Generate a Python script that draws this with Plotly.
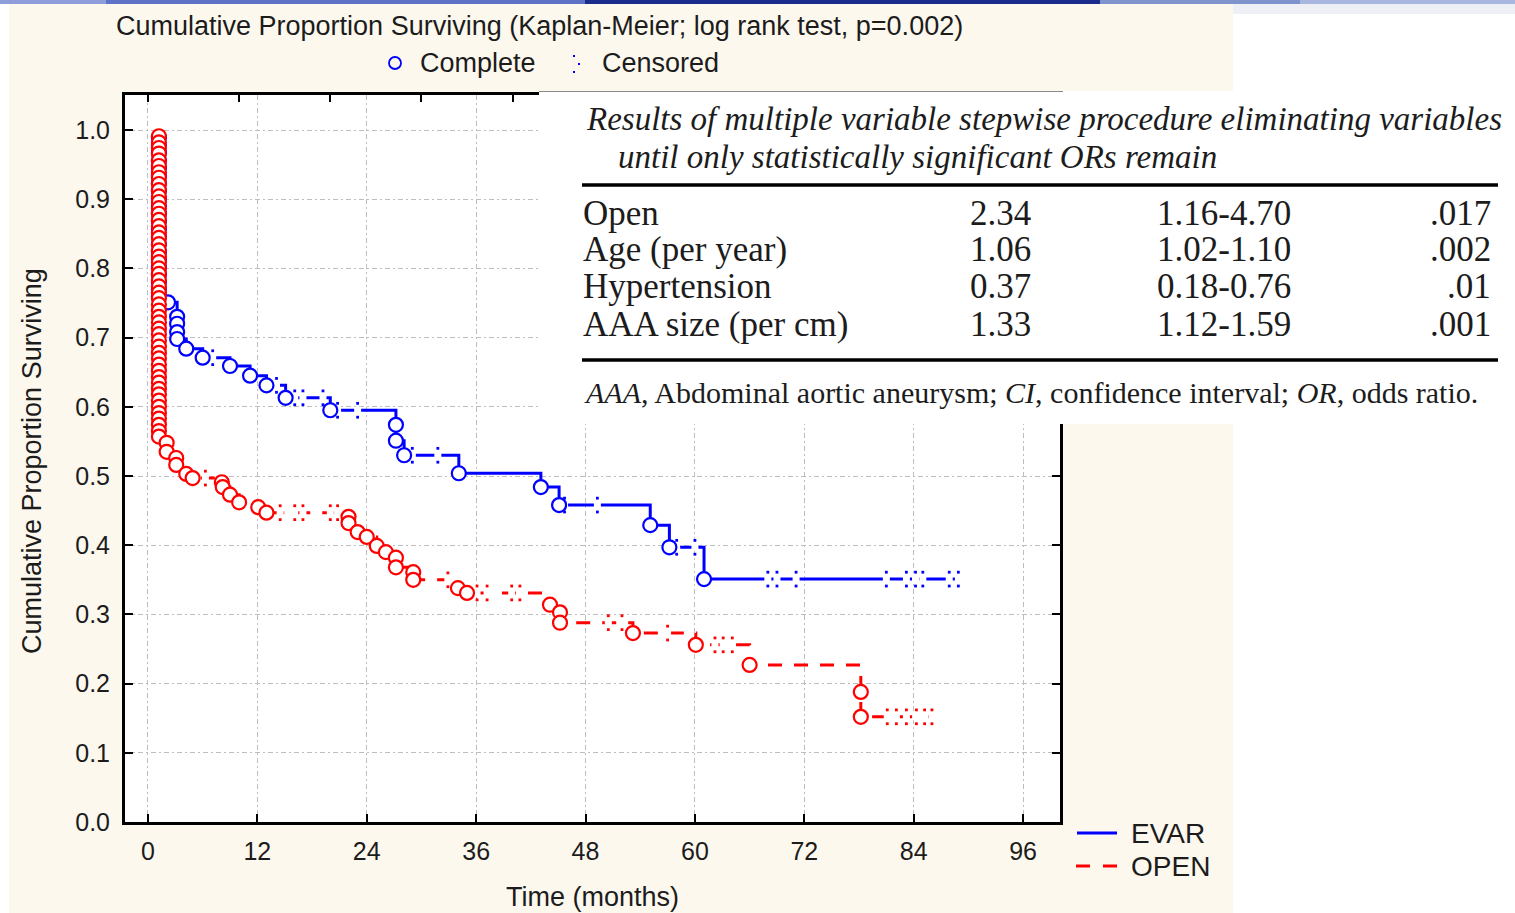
import plotly.graph_objects as go

# ---------------- survival data (months, cumulative proportion surviving) ----------------
# EVAR group
EVAR_T0 = 1.2
EVAR_EARLY_S = [0.989, 0.978, 0.967, 0.956, 0.945, 0.934, 0.923, 0.912, 0.901, 0.890, 0.879,
                0.868, 0.857, 0.846, 0.835, 0.824, 0.813, 0.802, 0.791, 0.780, 0.770, 0.759]
EVAR_DEATH_T = [2.2, 3.2, 3.2, 3.2, 3.2, 4.2, 6.0, 9.0, 11.2, 13.0, 15.1, 20.0, 27.2, 27.2,
                28.1, 34.1, 43.1, 45.1, 55.1, 57.2, 61.0]
EVAR_DEATH_S = [0.751, 0.730, 0.720, 0.708, 0.698, 0.684, 0.671, 0.659, 0.645, 0.631, 0.613,
                0.595, 0.574, 0.551, 0.530, 0.504, 0.484, 0.458, 0.429, 0.397, 0.351]
EVAR_CENSOR_T = [7.1, 14.1, 16.1, 17.0, 19.2, 20.8, 23.0, 29.0, 31.8, 45.7, 49.3, 58.0, 60.0,
                 68.0, 69.0, 71.1, 81.0, 83.2, 84.2, 85.0, 87.9, 88.9]

# OPEN group
OPEN_T0 = 1.2
OPEN_EARLY_S = [0.991, 0.982, 0.974, 0.966, 0.956, 0.948, 0.939, 0.931, 0.922, 0.913,
                0.904, 0.896, 0.887, 0.879, 0.870, 0.861, 0.852, 0.844, 0.835, 0.826,
                0.817, 0.809, 0.800, 0.792, 0.783, 0.774, 0.765, 0.757, 0.748, 0.739,
                0.730, 0.722, 0.713, 0.705, 0.696, 0.687, 0.678, 0.670, 0.661, 0.652,
                0.643, 0.635, 0.626, 0.618, 0.609, 0.600, 0.591, 0.583, 0.574, 0.565, 0.557]
OPEN_DEATH_T = [2.05, 2.05, 3.1, 3.1, 4.2, 4.9, 8.1, 8.2, 9.0, 10.0, 12.1, 13.0, 22.0, 22.0,
                23.0, 24.0, 25.1, 26.1, 27.2, 27.2, 29.1, 29.1, 34.0, 35.0, 44.1, 45.2, 45.2,
                53.2, 60.1, 66.0, 78.2, 78.2]
OPEN_DEATH_S = [0.548, 0.535, 0.526, 0.516, 0.503, 0.497, 0.491, 0.484, 0.473, 0.462, 0.455,
                0.447, 0.441, 0.432, 0.419, 0.412, 0.399, 0.390, 0.382, 0.368, 0.361, 0.350,
                0.338, 0.331, 0.314, 0.303, 0.288, 0.273, 0.256, 0.227, 0.188, 0.152]
OPEN_CENSOR_T = [6.3, 14.5, 16.1, 17.0, 20.0, 20.8, 32.9, 36.1, 37.2, 39.9, 40.8, 50.5, 52.0,
                 57.0, 62.2, 63.1, 64.1, 81.1, 82.1, 83.2, 84.3, 85.2, 86.0]

X_TICKS = [0, 12, 24, 36, 48, 60, 72, 84, 96]
X_TOP_TICKS = [0, 10, 20, 30, 40, 50, 60, 70, 80, 90, 100]
Y_TICKS = [0.0, 0.1, 0.2, 0.3, 0.4, 0.5, 0.6, 0.7, 0.8, 0.9, 1.0]

# ---------------- odds-ratio table ----------------
TABLE_TITLE_1 = "Results of multiple variable stepwise procedure eliminating variables"
TABLE_TITLE_2 = "until only statistically significant ORs remain"
TABLE_VARS = ["Open", "Age (per year)", "Hypertension", "AAA size (per cm)"]
TABLE_OR = ["2.34", "1.06", "0.37", "1.33"]
TABLE_CI = ["1.16-4.70", "1.02-1.10", "0.18-0.76", "1.12-1.59"]
TABLE_P = [".017", ".002", ".01", ".001"]
TABLE_NOTE = ("<i>AAA</i>, Abdominal aortic aneurysm; <i>CI</i>, confidence interval; "
              "<i>OR</i>, odds ratio.")

# ---------------- page geometry (pixels) ----------------
W, H = 1515, 913
PL, PR, PT, PB = 125, 1060, 95, 822  # plot-area edges


def px(x):
    return (x - PL) / (PR - PL)


def py(y):
    return (PB - y) / (PB - PT)


BLUE = "#0000FF"
RED = "#FF0000"
SANS = "Liberation Sans, Arial, sans-serif"
SERIF = "Liberation Serif, Times New Roman, serif"
INK = "#1c1c1c"
CENSOR_OFFSET = 0.0100


def km_curve(t0, early_s, death_t, death_s, censor_t):
    """Assemble the step path, death points and censor points of one group."""
    events = [(t0, s, 0) for s in early_s]
    events += [(t, s, 0) for t, s in zip(death_t, death_s)]
    deaths_sorted = sorted(events, key=lambda e: e[0])
    for ct in censor_t:
        level = 1.0
        for t, s, _ in deaths_sorted:
            if t <= ct:
                level = s
        events.append((ct, level, 1))
    events.sort(key=lambda e: (e[0], e[2]))
    path_x, path_y = [t0], [1.0]
    for t, s, _ in events:
        path_x.append(t)
        path_y.append(s)
    dx = [e[0] for e in events if e[2] == 0]
    dy = [e[1] for e in events if e[2] == 0]
    cx = [e[0] for e in events if e[2] == 1]
    cy = [e[1] for e in events if e[2] == 1]
    return path_x, path_y, dx, dy, cx, cy


fig = go.Figure()


def add_group(curve, color, dash):
    path_x, path_y, dx, dy, cx, cy = curve
    fig.add_trace(go.Scatter(x=path_x, y=path_y, mode="lines", line_shape="hv",
                             line=dict(color=color, width=3, dash=dash),
                             showlegend=False, hoverinfo="skip"))
    # break the line where observations are censored
    fig.add_trace(go.Scatter(x=cx, y=cy, mode="markers",
                             marker=dict(symbol="square", size=7, color="white"),
                             showlegend=False, hoverinfo="skip"))
    # censor marks: small dots above and below the curve
    fig.add_trace(go.Scatter(x=cx + cx, y=[v + CENSOR_OFFSET for v in cy] + [v - CENSOR_OFFSET for v in cy],
                             mode="markers",
                             marker=dict(symbol="square", size=2.8, color=color),
                             showlegend=False, hoverinfo="skip"))
    # complete (death) observations
    fig.add_trace(go.Scatter(x=dx, y=dy, mode="markers",
                             marker=dict(symbol="circle", size=14, color="white",
                                         line=dict(color=color, width=2.2)),
                             showlegend=False, hoverinfo="skip"))


add_group(km_curve(EVAR_T0, EVAR_EARLY_S, EVAR_DEATH_T, EVAR_DEATH_S, EVAR_CENSOR_T), BLUE, "solid")
add_group(km_curve(OPEN_T0, OPEN_EARLY_S, OPEN_DEATH_T, OPEN_DEATH_S, OPEN_CENSOR_T), RED, "14px,12px")

# carrier trace for the top tick axis
fig.add_trace(go.Scatter(x=[0], y=[0], xaxis="x2", mode="markers",
                         marker=dict(opacity=0), showlegend=False, hoverinfo="skip"))

X_RANGE = [-2.52, 100.05]
GRID = dict(showgrid=True, gridcolor="#BEBEBE", gridwidth=1, griddash="5px,3px,2px,3px")

fig.update_layout(
    width=W, height=H, autosize=False,
    margin=dict(l=PL, r=W - PR, t=PT, b=H - PB, pad=0),
    paper_bgcolor="white", plot_bgcolor="white",
    showlegend=False,
    xaxis=dict(range=X_RANGE, tickvals=X_TICKS, ticks="inside", ticklen=8, tickwidth=2,
               tickcolor="black", showline=True, linewidth=3, linecolor="black", mirror=True,
               zeroline=False, tickfont=dict(family=SANS, size=25, color=INK),
               ticklabelstandoff=5, **GRID),
    xaxis2=dict(range=X_RANGE, overlaying="x", side="top", anchor="y", tickvals=X_TOP_TICKS,
                ticks="inside", ticklen=7, tickwidth=2, tickcolor="black",
                showticklabels=False, showgrid=False, zeroline=False, showline=False),
    yaxis=dict(range=[0, 1.0506], tickvals=Y_TICKS, tickformat=".1f", ticks="inside", ticklen=8,
               tickwidth=2, tickcolor="black", showline=True, linewidth=3, linecolor="black",
               mirror="ticks", zeroline=False, tickfont=dict(family=SANS, size=25, color=INK),
               ticklabelstandoff=7, **GRID),
)

shapes = []
# cream slide background and white plotting area
shapes.append(dict(type="rect", xref="paper", yref="paper", x0=px(9), x1=px(1233), y0=py(913), y1=py(4),
                   fillcolor="#FDF8EE", line=dict(width=0), layer="below"))
shapes.append(dict(type="rect", xref="paper", yref="paper", x0=0, x1=1, y0=0, y1=1,
                   fillcolor="white", line=dict(width=0), layer="below"))
# banner strip along the top edge
for x0, x1, col in [(0, 106, "#8D9EDB"), (106, 585, "#5F73C6"), (585, 1100, "#1B2C8C"),
                    (1100, 1300, "#7F93CC"), (1300, 1515, "#A9B7DE")]:
    shapes.append(dict(type="rect", xref="paper", yref="paper", x0=px(x0), x1=px(x1),
                       y0=py(4), y1=py(0), fillcolor=col, line=dict(width=0), layer="below"))
shapes.append(dict(type="rect", xref="paper", yref="paper", x0=px(1233), x1=px(1515),
                   y0=py(14), y1=py(4), fillcolor="#EEF0F6", line=dict(width=0), layer="below"))

# table panel laid over the upper right of the chart
shapes.append(dict(type="rect", xref="paper", yref="paper", x0=px(539), x1=px(1515),
                   y0=py(424), y1=py(91), fillcolor="white", line=dict(width=0), layer="above"))
shapes.append(dict(type="line", xref="paper", yref="paper", x0=px(539), x1=px(1063),
                   y0=py(91.5), y1=py(91.5), line=dict(color="#8a8a8a", width=1), layer="above"))
for yy in (185, 360):
    shapes.append(dict(type="line", xref="paper", yref="paper", x0=px(582), x1=px(1498),
                       y0=py(yy), y1=py(yy), line=dict(color="black", width=3.5), layer="above"))

# top legend symbols
shapes.append(dict(type="circle", xref="paper", yref="paper", x0=px(389), x1=px(401),
                   y0=py(69), y1=py(57), line=dict(color=BLUE, width=1.8), layer="above"))
for cx_, cy_ in [(574, 56), (579, 64), (574, 72)]:
    shapes.append(dict(type="rect", xref="paper", yref="paper", x0=px(cx_ - 1), x1=px(cx_ + 1),
                       y0=py(cy_ + 1), y1=py(cy_ - 1), fillcolor=BLUE, line=dict(width=0),
                       layer="above"))

# group legend lines
shapes.append(dict(type="line", xref="paper", yref="paper", x0=px(1077), x1=px(1117),
                   y0=py(833), y1=py(833), line=dict(color=BLUE, width=3)))
shapes.append(dict(type="line", xref="paper", yref="paper", x0=px(1076), x1=px(1118),
                   y0=py(866), y1=py(866), line=dict(color=RED, width=3, dash="14px,13px")))

fig.update_layout(shapes=shapes)

ann = []


def text(x, y, s, size, family=SANS, xanchor="left", textangle=0, color=INK):
    ann.append(dict(x=px(x), y=py(y), xref="paper", yref="paper", text=s, showarrow=False,
                    xanchor=xanchor, yanchor="middle", textangle=textangle,
                    font=dict(family=family, size=size, color=color)))


text(539, 26, "Cumulative Proportion Surviving (Kaplan-Meier; log rank test, p=0.002)", 27, xanchor="center")
text(418, 63, "Complete", 27)
text(600, 63, "Censored", 27)
text(592, 897, "Time (months)", 27, xanchor="center")
text(32, 461, "Cumulative Proportion Surviving", 27, xanchor="center", textangle=-90)
text(1129, 833, "EVAR", 28)
text(1129, 866, "OPEN", 28)

# table text
text(584, 119, "<i>" + TABLE_TITLE_1 + "</i>", 33, family=SERIF)
text(616, 157, "<i>" + TABLE_TITLE_2 + "</i>", 33, family=SERIF)
row_y = [213, 249, 286, 324]
for i, yy in enumerate(row_y):
    text(581, yy, TABLE_VARS[i], 35, family=SERIF)
    text(1033, yy, TABLE_OR[i], 35, family=SERIF, xanchor="right")
    text(1293, yy, TABLE_CI[i], 35, family=SERIF, xanchor="right")
    text(1493, yy, TABLE_P[i], 35, family=SERIF, xanchor="right")
text(582, 392, TABLE_NOTE, 30, family=SERIF)

fig.update_layout(annotations=ann)

fig.write_html("out.html")
